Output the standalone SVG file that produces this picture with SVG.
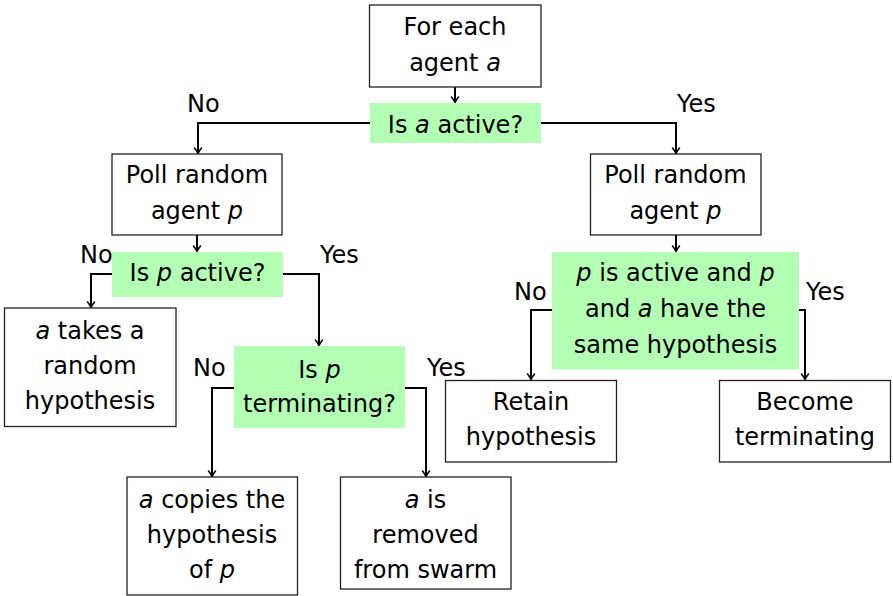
<svg xmlns="http://www.w3.org/2000/svg" width="893" height="596" viewBox="0 0 893 596">
  <defs>
    <marker id="arrow" markerWidth="12" markerHeight="12" refX="7" refY="6" orient="auto" markerUnits="userSpaceOnUse">
      <path d="M2,2.5 Q5,5 7.5,6 Q5,7 2,9.5" fill="none" stroke="#000" stroke-width="1.6" stroke-linecap="round"/>
    </marker>
    <style>
      .box { fill: #fff; stroke: #222; stroke-width: 1.3; }
      .dec { fill: #b3ffb3; stroke: none; }
      text { font-family: "DejaVu Sans", "Liberation Sans", sans-serif; font-size: 24px; fill: #000; text-anchor: middle; }
      .lbl { text-anchor: start; }
      .m { font-style: italic; }
      .edge { fill: none; stroke: #000; stroke-width: 2; marker-end: url(#arrow); }
    </style>
  </defs>
  <rect width="893" height="596" fill="#fff"/>

  <g id="connectors">
    <path class="edge" d="M455,87 V102"/>
    <path class="edge" d="M370,123 H198 V153"/>
    <path class="edge" d="M541,123 H676 V153"/>
    <path class="edge" d="M197,235 V251"/>
    <path class="edge" d="M112,274 H91 V307"/>
    <path class="edge" d="M283,274 H319 V345"/>
    <path class="edge" d="M234,388 H212 V476"/>
    <path class="edge" d="M405,388 H426 V476"/>
    <path class="edge" d="M676,235 V251"/>
    <path class="edge" d="M552,310 H531 V379"/>
    <path class="edge" d="M799,310 H805 V379"/>
  </g>

  <g id="labels">
    <text class="lbl" x="187" y="112">No</text>
    <text class="lbl" x="677" y="112">Yes</text>
    <text class="lbl" x="80" y="263">No</text>
    <text class="lbl" x="320" y="263">Yes</text>
    <text class="lbl" x="193" y="376">No</text>
    <text class="lbl" x="427" y="376">Yes</text>
    <text class="lbl" x="514" y="300">No</text>
    <text class="lbl" x="806" y="300">Yes</text>
  </g>

  <g id="start">
    <rect class="box" x="369.5" y="5" width="171.5" height="82"/>
    <text x="455" y="35">For each</text>
    <text x="455" y="71">agent <tspan class="m">a</tspan></text>
  </g>

  <g id="is-a-active">
    <rect class="dec" x="370" y="103" width="171" height="40"/>
    <text x="455.5" y="133">Is <tspan class="m">a</tspan> active?</text>
  </g>

  <g id="poll-left">
    <rect class="box" x="112" y="154" width="170" height="81"/>
    <text x="197" y="183">Poll random</text>
    <text x="197" y="219">agent <tspan class="m">p</tspan></text>
  </g>

  <g id="is-p-active">
    <rect class="dec" x="112" y="252" width="171" height="45"/>
    <text x="197.5" y="281">Is <tspan class="m">p</tspan> active?</text>
  </g>

  <g id="random-hypothesis">
    <rect class="box" x="4.5" y="308" width="171.5" height="118.5"/>
    <text x="90" y="339"><tspan class="m">a</tspan> takes a</text>
    <text x="90" y="374">random</text>
    <text x="90" y="409">hypothesis</text>
  </g>

  <g id="is-p-terminating">
    <rect class="dec" x="234" y="346" width="171" height="82"/>
    <text x="319.5" y="378">Is <tspan class="m">p</tspan></text>
    <text x="319.5" y="412">terminating?</text>
  </g>

  <g id="copy-hypothesis">
    <rect class="box" x="127" y="477" width="170.5" height="118"/>
    <text x="212" y="508"><tspan class="m">a</tspan> copies the</text>
    <text x="212" y="543">hypothesis</text>
    <text x="212" y="578">of <tspan class="m">p</tspan></text>
  </g>

  <g id="removed">
    <rect class="box" x="340.5" y="477" width="170.5" height="112"/>
    <text x="425.5" y="508"><tspan class="m">a</tspan> is</text>
    <text x="425.5" y="543">removed</text>
    <text x="425.5" y="578">from swarm</text>
  </g>

  <g id="poll-right">
    <rect class="box" x="590.5" y="154" width="170.5" height="81"/>
    <text x="675.5" y="183">Poll random</text>
    <text x="675.5" y="219">agent <tspan class="m">p</tspan></text>
  </g>

  <g id="same-hypothesis">
    <rect class="dec" x="552" y="252" width="247" height="117.5"/>
    <text x="675.5" y="281"><tspan class="m">p</tspan> is active and <tspan class="m">p</tspan></text>
    <text x="675.5" y="317">and <tspan class="m">a</tspan> have the</text>
    <text x="675.5" y="353">same hypothesis</text>
  </g>

  <g id="retain">
    <rect class="box" x="445.5" y="380.5" width="171" height="81.5"/>
    <text x="531" y="410">Retain</text>
    <text x="531" y="445">hypothesis</text>
  </g>

  <g id="become-terminating">
    <rect class="box" x="719.5" y="380.5" width="171" height="81.5"/>
    <text x="805" y="410">Become</text>
    <text x="805" y="445">terminating</text>
  </g>
</svg>
